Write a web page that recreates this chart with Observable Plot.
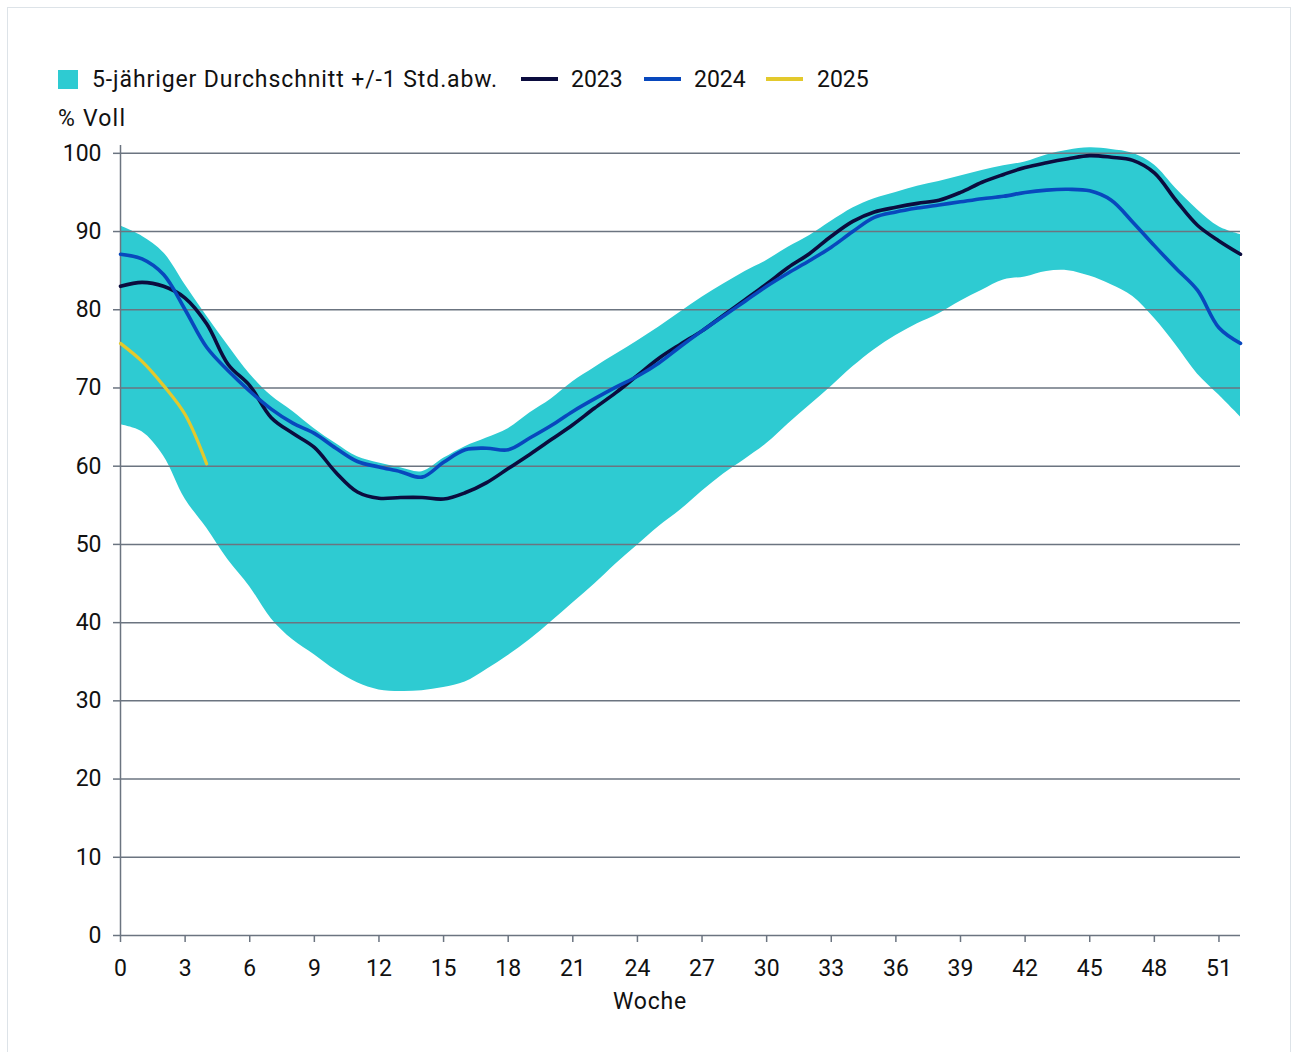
<!DOCTYPE html>
<html>
<head>
<meta charset="utf-8">
<script src="https://cdn.jsdelivr.net/npm/d3@7"></script>
<script src="https://cdn.jsdelivr.net/npm/@observablehq/plot@0.6"></script>
<style>
  html, body { margin: 0; padding: 0; background: #fff; }
  body { width: 1292px; height: 1052px; position: relative; overflow: hidden;
         font-family: Roboto, "Liberation Sans", sans-serif; color: #111; }
  #frame { position: absolute; left: 7px; top: 7px; width: 1284px; height: 1070px;
           border: 1px solid #dde3e8; box-sizing: border-box; }
  .lg { position: absolute; font-size: 23px; line-height: 30px; top: 65px; white-space: nowrap; }
  .sw { position: absolute; }
  #unit { position: absolute; left: 58px; top: 104px; font-size: 23px; line-height: 30px; letter-spacing: 1.2px; }
  #xlabel { position: absolute; left: 0; width: 1300px; text-align: center; top: 987px;
            font-size: 23px; line-height: 30px; letter-spacing: 0.8px; }
  #chart { position: absolute; left: 0; top: 140px; }
</style>
</head>
<body>
<div id="frame"></div>
<div id="legend"></div>
<div id="unit">% Voll</div>
<div id="chart"></div>
<div id="xlabel">Woche</div>
<script>
// ---- data ----
const weeks = [0,1,2,3,4,5,6,7,8,9,10,11,12,13,14,15,16,17,18,19,20,21,22,23,24,25,26,
               27,28,29,30,31,32,33,34,35,36,37,38,39,40,41,42,43,44,45,46,47,48,49,50,51,52];
const bandUpper = [90.7,89.4,87.3,83.2,79.2,75.4,71.8,69.0,67.0,64.8,62.9,61.2,60.4,59.8,59.3,
                   61.0,62.5,63.6,64.8,66.8,68.6,70.8,72.6,74.3,76.0,77.8,79.7,81.6,83.3,84.9,
                   86.3,88.0,89.5,91.3,93.0,94.2,95.0,95.8,96.4,97.1,97.8,98.4,98.9,99.8,100.4,
                   100.7,100.5,100.0,98.5,95.5,92.8,90.6,89.6];
const bandLower = [65.3,64.4,61.3,55.8,52.1,48.0,44.6,40.5,37.8,35.9,33.9,32.3,31.4,31.2,31.3,
                   31.7,32.4,34.0,35.8,37.8,40.1,42.5,44.9,47.5,49.9,52.3,54.4,56.8,59.0,60.9,
                   62.9,65.4,67.8,70.2,72.7,74.9,76.7,78.2,79.5,81.1,82.5,83.8,84.2,84.9,85.0,
                   84.3,83.2,81.7,78.9,75.5,71.8,69.1,66.3];
const y2023 = [83.0,83.5,83.0,81.5,78.2,73.0,70.3,66.2,64.2,62.4,59.2,56.7,55.9,56.0,56.0,
               55.8,56.6,57.9,59.7,61.5,63.4,65.3,67.4,69.4,71.6,73.8,75.6,77.3,79.3,81.3,
               83.3,85.4,87.2,89.4,91.3,92.5,93.1,93.6,94.0,95.0,96.3,97.3,98.2,98.8,99.3,
               99.7,99.5,99.1,97.5,94.0,90.8,88.8,87.1];
const y2024 = [87.1,86.5,84.5,80.0,75.2,72.2,69.6,67.3,65.5,64.2,62.3,60.6,59.9,59.3,58.6,
               60.5,62.1,62.3,62.1,63.6,65.2,67.0,68.6,70.1,71.5,73.2,75.3,77.3,79.2,81.1,
               83.0,84.7,86.3,88.0,90.0,91.8,92.5,93.0,93.4,93.8,94.2,94.5,95.0,95.3,95.4,
               95.2,94.0,91.2,88.2,85.3,82.5,77.7,75.7];
const y2025 = [75.7,73.4,70.3,66.6,60.3];
const xTicks = [0,3,6,9,12,15,18,21,24,27,30,33,36,39,42,45,48,51];
const yTicks = [0,10,20,30,40,50,60,70,80,90,100];
const seriesNames = ["5-jähriger Durchschnitt +/-1 Std.abw.", "2023", "2024", "2025"];
const colors = { band: "#2ecbd2", s2023: "#0b0c3e", s2024: "#0848bd", s2025: "#e3c92c" };
const gridColor = "#6b7480";

// ---- tables ----
const band = weeks.map((w, i) => ({week: w, lo: bandLower[i], hi: bandUpper[i]}));
const toRows = arr => arr.map((v, i) => ({week: weeks[i], value: v}));

// ---- legend ----
const legend = document.getElementById("legend");
const legendItems = [
  {label: seriesNames[0], kind: "box", color: colors.band, sx: 58, tx: 92, ls: "0.9px"},
  {label: seriesNames[1], kind: "line", color: colors.s2023, sx: 521, tx: 571, ls: "0px"},
  {label: seriesNames[2], kind: "line", color: colors.s2024, sx: 644, tx: 694, ls: "0px"},
  {label: seriesNames[3], kind: "line", color: colors.s2025, sx: 766, tx: 817, ls: "0px"}
];
for (const it of legendItems) {
  const sw = document.createElement("div");
  sw.className = "sw";
  if (it.kind === "box") {
    Object.assign(sw.style, {left: it.sx + "px", top: "70px", width: "20px", height: "19px", background: it.color});
  } else {
    Object.assign(sw.style, {left: it.sx + "px", top: "77px", width: "37px", height: "4px", background: it.color});
  }
  legend.appendChild(sw);
  const t = document.createElement("div");
  t.className = "lg";
  t.style.left = it.tx + "px";
  t.style.letterSpacing = it.ls;
  t.textContent = it.label;
  legend.appendChild(t);
}

// ---- chart ----
const chart = Plot.plot({
  width: 1292,
  height: 850,
  marginLeft: 120,
  marginRight: 52,
  marginTop: 5,
  marginBottom: 55,
  style: {fontFamily: "Roboto, 'Liberation Sans', sans-serif", fontSize: "23px", background: "transparent", color: "#111"},
  x: {domain: [0, 52], label: null},
  y: {domain: [0, 101], label: null},
  marks: [
    Plot.areaY(band, {x: "week", y1: "lo", y2: "hi", fill: colors.band, curve: "catmull-rom"}),
    Plot.ruleY(yTicks, {stroke: gridColor, strokeWidth: 1.5}),
    Plot.ruleX([0], {stroke: gridColor, strokeWidth: 1.5}),
    Plot.axisX({ticks: xTicks, tickSize: 7, tickPadding: 17, stroke: gridColor, fill: "#111", strokeWidth: 1.5, label: null}),
    Plot.axisY({ticks: yTicks, tickSize: 7, tickPadding: 12, stroke: gridColor, fill: "#111", strokeWidth: 1.5, label: null}),
    Plot.lineY(toRows(y2023), {x: "week", y: "value", stroke: colors.s2023, strokeWidth: 3.6, curve: "catmull-rom"}),
    Plot.lineY(toRows(y2024), {x: "week", y: "value", stroke: colors.s2024, strokeWidth: 3.6, curve: "catmull-rom"}),
    Plot.lineY(toRows(y2025), {x: "week", y: "value", stroke: colors.s2025, strokeWidth: 3.2, curve: "catmull-rom"})
  ]
});
document.getElementById("chart").appendChild(chart);
</script>
</body>
</html>
